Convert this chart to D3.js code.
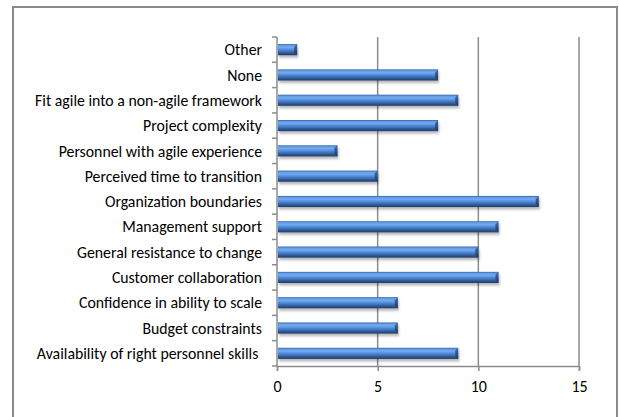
<!DOCTYPE html>
<html>
<head>
<meta charset="utf-8">
<script src="https://cdn.jsdelivr.net/npm/d3@7"></script>
<style>
  body { margin: 0; background: #fff; }
  text { font-family: Carlito, Lato, "Liberation Sans", Arial, sans-serif; fill: #000; }
</style>
</head>
<body>
<svg id="chart" width="619" height="417"></svg>
<script>
// categories listed bottom to top, as in the picture
const categories = [
    "Availability of right personnel skills ",
    "Budget constraints",
    "Confidence in ability to scale",
    "Customer collaboration",
    "General resistance to change",
    "Management support",
    "Organization boundaries",
    "Perceived time to transition",
    "Personnel with agile experience",
    "Project complexity",
    "Fit agile into a non-agile framework",
    "None",
    "Other"
];
const counts = [9, 6, 6, 11, 10, 11, 13, 5, 3, 8, 9, 8, 1];
const xTicks = [0, 5, 10, 15];

function drawChart() {
    const svg = d3.select("#chart");
    svg.selectAll("*").remove();

    const left = 277, right = 579, top = 37, bottom = 366;

    // outer frame (bottom edge cut off in the picture)
    svg.append("path")
        .attr("d", "M13,417 V7 H617 V417")
        .attr("fill", "none")
        .attr("stroke", "#8a8a8a")
        .attr("stroke-width", 2);

    const x = d3.scaleLinear().domain([0, 15]).range([left, right]);
    const y = d3.scaleBand()
        .domain(categories.slice().reverse())
        .range([top, bottom])
        .paddingInner(0.56).paddingOuter(0.28);

    const defs = svg.append("defs");
    const grad = defs.append("linearGradient")
        .attr("id", "barGrad").attr("x1", 0).attr("y1", 0).attr("x2", 0).attr("y2", 1);
    grad.append("stop").attr("offset", "0%").attr("stop-color", "#2f5c9c");
    grad.append("stop").attr("offset", "12%").attr("stop-color", "#609ce6");
    grad.append("stop").attr("offset", "30%").attr("stop-color", "#72aaf2");
    grad.append("stop").attr("offset", "55%").attr("stop-color", "#4c84d2");
    grad.append("stop").attr("offset", "80%").attr("stop-color", "#2f5a96");
    grad.append("stop").attr("offset", "100%").attr("stop-color", "#1f3b66");

    const endGrad = defs.append("linearGradient")
        .attr("id", "endGrad").attr("x1", 0).attr("y1", 0).attr("x2", 0).attr("y2", 1);
    endGrad.append("stop").attr("offset", "0%").attr("stop-color", "#3a6aae");
    endGrad.append("stop").attr("offset", "50%").attr("stop-color", "#2d5590");
    endGrad.append("stop").attr("offset", "100%").attr("stop-color", "#1b3560");

    const shadow = defs.append("filter").attr("id", "shadow")
        .attr("x", "-5%").attr("y", "-30%").attr("width", "110%").attr("height", "190%");
    shadow.append("feDropShadow").attr("dx", 1).attr("dy", 2.5).attr("stdDeviation", 1.3)
        .attr("flood-color", "#000").attr("flood-opacity", 0.28);

    // gridlines
    svg.append("g")
        .selectAll("line")
        .data(xTicks.slice(1))
        .enter().append("line")
        .attr("x1", d => x(d)).attr("x2", d => x(d))
        .attr("y1", top).attr("y2", bottom)
        .attr("stroke", "#8c8c8c").attr("stroke-width", 1.5);

    // x axis
    const xAxis = svg.append("g")
        .attr("transform", `translate(0,${bottom})`)
        .call(d3.axisBottom(x).tickValues(xTicks).tickSize(5).tickPadding(10));
    xAxis.select(".domain").attr("stroke", "#8c8c8c").attr("stroke-width", 1.5);
    xAxis.selectAll(".tick line").attr("stroke", "#8c8c8c").attr("stroke-width", 1.5);
    xAxis.selectAll("text").attr("font-size", 16).attr("fill", "#000");

    // y axis: category ticks on band boundaries
    const yAxis = svg.append("g").attr("transform", `translate(${left},0)`);
    yAxis.append("line")
        .attr("y1", top).attr("y2", bottom)
        .attr("stroke", "#8c8c8c").attr("stroke-width", 1.5);
    const step = (bottom - top) / categories.length;
    yAxis.selectAll("line.tk")
        .data(d3.range(categories.length + 1))
        .enter().append("line").attr("class", "tk")
        .attr("x1", -5).attr("x2", 0)
        .attr("y1", i => top + i * step).attr("y2", i => top + i * step)
        .attr("stroke", "#8c8c8c").attr("stroke-width", 1.5);

    yAxis.selectAll("text")
        .data(categories)
        .enter().append("text")
        .attr("x", -15)
        .attr("y", d => y(d) + y.bandwidth() / 2)
        .attr("dy", "0.36em")
        .attr("text-anchor", "end")
        .attr("font-size", 15.8)
        .style("white-space", "pre")
        .attr("xml:space", "preserve")
        .text(d => d);

    // bars
    const bars = svg.append("g")
        .selectAll("g")
        .data(categories)
        .enter().append("g")
        .attr("filter", "url(#shadow)");

    bars.append("rect")
        .attr("x", x(0) + 1)
        .attr("y", d => y(d))
        .attr("width", (d, i) => x(counts[i]) - x(0) - 1)
        .attr("height", y.bandwidth())
        .attr("fill", "url(#barGrad)");

    // bevelled right end
    bars.append("path")
        .attr("d", (d, i) => {
            const xe = x(counts[i]), y0 = y(d), h = y.bandwidth(), b = 3;
            return `M${xe - b},${y0 + b} L${xe},${y0} V${y0 + h} L${xe - b},${y0 + h - b} Z`;
        })
        .attr("fill", "url(#endGrad)");
}

drawChart();
</script>
</body>
</html>
